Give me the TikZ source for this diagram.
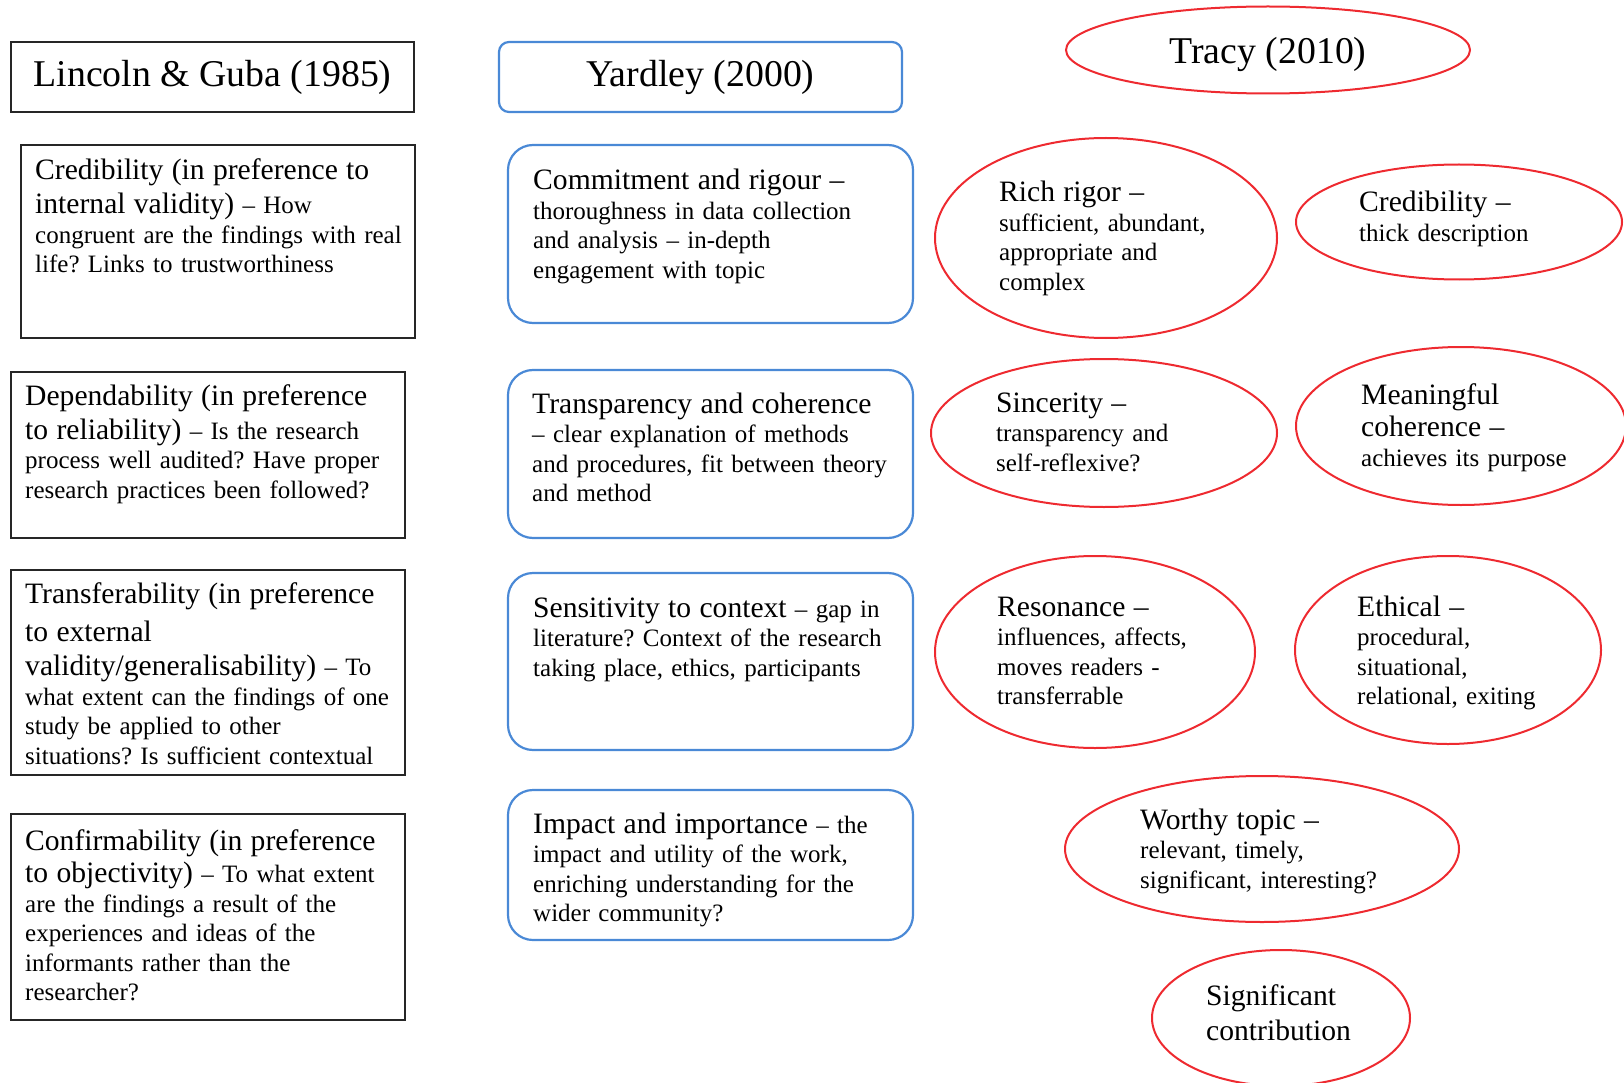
\documentclass[tikz,border=0pt]{standalone}
\usepackage{fontspec}
\setmainfont{Liberation Serif}
\usetikzlibrary{shapes.geometric}
\definecolor{yardley-blue}{HTML}{4A89D6}
\definecolor{tracy-red}{HTML}{EE2A30}
\newcommand{\headsize}{\fontsize{37.8}{44}\selectfont}
\newcommand{\leadsize}{\fontsize{29.6}{34}\selectfont}
\newcommand{\restsize}{\fontsize{25}{29.5}\selectfont}
\frenchspacing

\begin{document}
\begin{tikzpicture}[x=1pt, y=-1pt,
        lgbox/.style={draw=black!85, line width=2pt, inner sep=0pt, outer sep=0pt, anchor=north west},
        yabox/.style={draw=yardley-blue, line width=2.2pt, rounded corners=25pt, inner sep=0pt, outer sep=0pt, anchor=north west},
        tracyell/.style={ellipse, draw=tracy-red, line width=2pt, inner sep=0pt},
        body/.style={anchor=base west, inner sep=0pt, align=left, font=\restsize, text width=#1},
        body/.default=375]
      \useasboundingbox (0,0) rectangle (1624,1083);

      % column heads
      \node[lgbox, minimum width=403, minimum height=70, anchor=center, font=\headsize] (lincoln) at (212.5,77) {Lincoln \& Guba (1985)};
      \node[yabox, rounded corners=10pt, minimum width=403, minimum height=70, anchor=center, font=\headsize] (yardley) at (700.5,77) {Yardley (2000)};
      \node[tracyell, minimum width=404, minimum height=87, font=\headsize] (tracy) at (1268,50) {\raisebox{-4pt}[\height][\depth]{Tracy (2010)}};

      % Lincoln & Guba
      \node[lgbox, minimum width=394, minimum height=193] (lg-cred) at (21,145) {};
      \node[lgbox, minimum width=394, minimum height=166] (lg-dep) at (11,372) {};
      \node[lgbox, minimum width=394, minimum height=205] (lg-trans) at (11,570) {};
      \node[lgbox, minimum width=394, minimum height=206] (lg-conf) at (11,814) {};
      \node[body] (lg-cred-txt) at (35,180) {{\leadsize Credibility (in preference to\\[4.5pt]internal validity)} -- How\\congruent are the findings with real\\life? Links to trustworthiness};
      \node[body] (lg-dep-txt) at (25,405) {{\leadsize Dependability (in preference\\[4.5pt]to reliability)} -- Is the research\\process well audited? Have proper\\research practices been followed?};
      \node[body] (lg-trans-txt) at (25,603) {{\leadsize Transferability (in preference\\[4.5pt]to external\\[4.5pt]validity/generalisability)} -- To\\what extent can the findings of one\\study be applied to other\\situations? Is sufficient contextual};
      \node[body] (lg-conf-txt) at (25,850) {{\leadsize Confirmability (in preference\\[3pt]to objectivity)} -- To what extent\\are the findings a result of the\\experiences and ideas of the\\informants rather than the\\researcher?};

      % Yardley
      \node[yabox, minimum width=405, minimum height=178] (ya-commit) at (508,145) {};
      \node[yabox, minimum width=405, minimum height=168] (ya-transp) at (508,370) {};
      \node[yabox, minimum width=405, minimum height=177] (ya-sens) at (508,573) {};
      \node[yabox, minimum width=405, minimum height=150] (ya-impact) at (508,790) {};
      \node[body=370] (ya-commit-txt) at (533,190) {{\leadsize Commitment and rigour --}\\thoroughness in data collection\\and analysis -- in-depth\\engagement with topic};
      \node[body=370] (ya-transp-txt) at (532,413) {{\leadsize Transparency and coherence}\\-- clear explanation of methods\\and procedures, fit between theory\\and method};
      \node[body=370] (ya-sens-txt) at (533,617) {{\leadsize Sensitivity to context} -- gap in\\literature? Context of the research\\taking place, ethics, participants};
      \node[body=370] (ya-impact-txt) at (533,833) {{\leadsize Impact and importance} -- the\\impact and utility of the work,\\enriching understanding for the\\wider community?};

      % Tracy
      \node[tracyell, minimum width=342, minimum height=200] (tr-rich) at (1106,238) {};
      \node[tracyell, minimum width=326, minimum height=115] (tr-cred) at (1459,222) {};
      \node[tracyell, minimum width=346, minimum height=148] (tr-sinc) at (1104,433) {};
      \node[tracyell, minimum width=330, minimum height=158] (tr-mean) at (1461,426) {};
      \node[tracyell, minimum width=320, minimum height=192] (tr-reso) at (1095,652) {};
      \node[tracyell, minimum width=306, minimum height=188] (tr-ethic) at (1448,650) {};
      \node[tracyell, minimum width=394, minimum height=146] (tr-worthy) at (1262,849) {};
      \node[tracyell, minimum width=258, minimum height=136] (tr-signif) at (1281,1018) {};
      \node[body=220] (tr-rich-txt) at (999,202) {{\leadsize Rich rigor --}\\sufficient, abundant,\\appropriate and\\complex};
      \node[body=185] (tr-cred-txt) at (1359,212) {{\leadsize Credibility --}\\thick description};
      \node[body=185] (tr-sinc-txt) at (996,412) {{\leadsize Sincerity --}\\transparency and\\self-reflexive?};
      \node[body=215] (tr-mean-txt) at (1361,404) {{\leadsize Meaningful\\[3pt]coherence --}\\achieves its purpose};
      \node[body=200] (tr-reso-txt) at (997,616) {{\leadsize Resonance --}\\influences, affects,\\moves readers -\\transferrable};
      \node[body=190] (tr-ethic-txt) at (1357,616) {{\leadsize Ethical --}\\procedural,\\situational,\\relational, exiting};
      \node[body=250] (tr-worthy-txt) at (1140,829) {{\leadsize Worthy topic --}\\relevant, timely,\\significant, interesting?};
      \node[body=160] (tr-signif-txt) at (1206,1005) {{\leadsize Significant\\[5.5pt]contribution}};
    \end{tikzpicture}
\end{document}
